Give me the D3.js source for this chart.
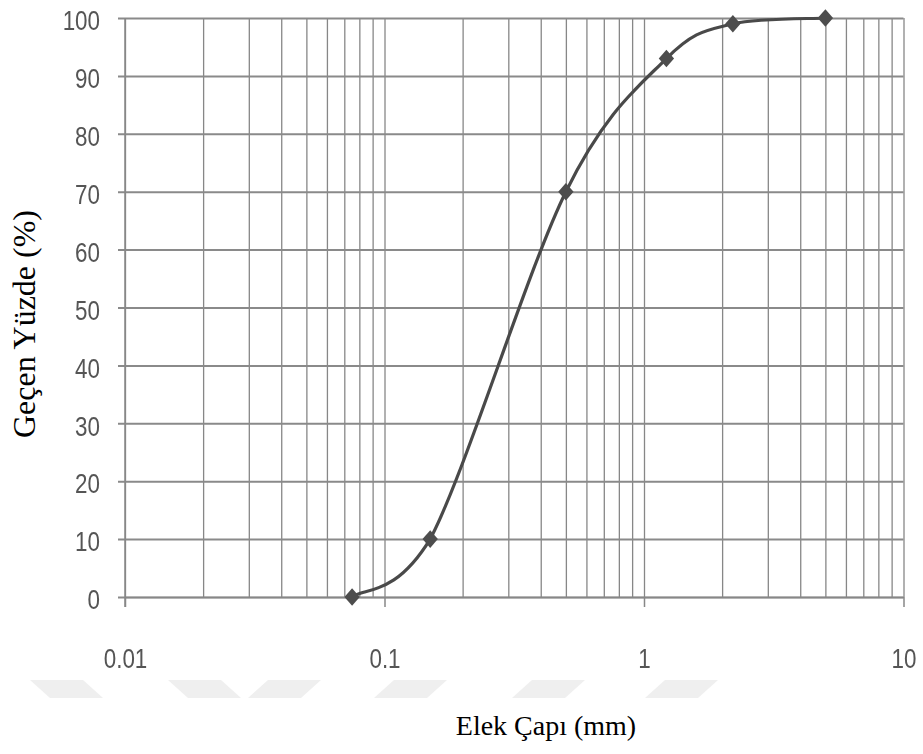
<!DOCTYPE html>
<html>
<head>
<meta charset="utf-8">
<script src="https://cdn.jsdelivr.net/npm/d3@7/dist/d3.min.js"></script>
<style>
  html, body { margin: 0; padding: 0; background: #fff; }
  svg { display: block; }
</style>
</head>
<body>
<svg id="chart" width="923" height="754"></svg>
<script>
// ---- data ----
const sieveSizes = [0.075, 0.15, 0.5, 1.22, 2.2, 5];      // Elek Çapı (mm)
const passingPct = [0, 10, 70, 93, 99, 100];              // Geçen Yüzde (%)
const yTicks = [0, 10, 20, 30, 40, 50, 60, 70, 80, 90, 100];
const xMajorTicks = [0.01, 0.1, 1, 10];
const xTickLabels = ["0.01", "0.1", "1", "10"];
const xTitle = "Elek Çapı (mm)";
const yTitle = "Geçen Yüzde (%)";

// ---- layout ----
const mLeft = 125, mRight = 903.5, mTop = 18, mBottom = 597;
const labelFont = "'Liberation Sans', Arial, sans-serif";
const squeeze = 0.8;

const svg = d3.select("#chart");
const defs = svg.append("defs");
defs.append("filter").attr("id", "soft")
  .append("feGaussianBlur").attr("stdDeviation", 0.55);

// faint watermark band under the axis labels
const band = svg.append("g").attr("fill", "#efefef");
const bandShapes = [
  {x: 30, dir: 1}, {x: 168, dir: 1}, {x: 268, dir: -1},
  {x: 394, dir: -1}, {x: 532, dir: -1}, {x: 665, dir: -1}
];
bandShapes.forEach(s => {
  const w = 53, sl = 20, y0 = 680, y1 = 698;
  const pts = s.dir > 0
    ? [[s.x, y0], [s.x + w, y0], [s.x + w + sl, y1], [s.x + sl, y1]]
    : [[s.x, y0], [s.x + w, y0], [s.x + w - sl, y1], [s.x - sl, y1]];
  band.append("polygon").attr("points", pts.map(p => p.join(",")).join(" "));
});

const x = d3.scaleLog().domain([0.01, 10]).range([mLeft, mRight]);
const y = d3.scaleLinear().domain([0, 100]).range([mBottom, mTop]);

// all log grid positions from the scale's own ticks
const xAllTicks = x.ticks();

const g = svg.append("g").attr("filter", "url(#soft)");

function squeezeText(sel) {
  sel.each(function () {
    const len = this.getComputedTextLength();
    d3.select(this).attr("textLength", len * squeeze).attr("lengthAdjust", "spacingAndGlyphs");
  });
}

// Excel-like smoothed curve: uniform Catmull-Rom Bezier, control points kept
// within each segment's vertical range (no dip/overshoot)
function ExcelSmooth(context) { this._context = context; }
ExcelSmooth.prototype = {
  areaStart() {}, areaEnd() {},
  lineStart() { this._pts = []; },
  point(px, py) { this._pts.push([+px, +py]); },
  lineEnd() {
    const P = this._pts, n = P.length, c = this._context;
    if (!n) return;
    c.moveTo(P[0][0], P[0][1]);
    const at = i => P[Math.max(0, Math.min(n - 1, i))];
    for (let i = 0; i < n - 1; i++) {
      const p0 = at(i - 1), p1 = at(i), p2 = at(i + 1), p3 = at(i + 2);
      const lo = Math.min(p1[1], p2[1]), hi = Math.max(p1[1], p2[1]);
      const cl = v => Math.max(lo, Math.min(hi, v));
      const c1x = p1[0] + (p2[0] - p0[0]) / 6, c1y = cl(p1[1] + (p2[1] - p0[1]) / 6);
      const c2x = p2[0] - (p3[0] - p1[0]) / 6, c2y = cl(p2[1] - (p3[1] - p1[1]) / 6);
      c.bezierCurveTo(c1x, c1y, c2x, c2y, p2[0], p2[1]);
    }
  }
};
const excelSmooth = context => new ExcelSmooth(context);

// vertical grid lines
g.append("g")
  .attr("transform", `translate(0,${mBottom})`)
  .call(d3.axisBottom(x).tickValues(xAllTicks).tickSize(-(mBottom - mTop)).tickFormat(""))
  .call(a => a.select(".domain").remove())
  .call(a => a.selectAll("line").attr("stroke", "#878787").attr("stroke-width", 1.3));

// horizontal grid lines + y labels
g.append("g")
  .attr("transform", `translate(${mLeft - 7},0)`)
  .call(d3.axisLeft(y).tickValues(yTicks).tickSize(-(mRight - mLeft + 7)).tickPadding(18).tickFormat(d3.format("d")))
  .call(a => a.select(".domain").remove())
  .call(a => a.selectAll("line").attr("stroke", "#8a8a8a").attr("stroke-width", 2))
  .call(a => a.selectAll("text")
    .attr("font-family", labelFont)
    .attr("font-size", 28).attr("fill", "#555").attr("dy", "0.42em")
    .call(squeezeText));

// major x ticks + labels
g.append("g")
  .attr("transform", `translate(0,${mBottom})`)
  .call(d3.axisBottom(x).tickValues(xMajorTicks).tickSize(10).tickSizeOuter(0).tickPadding(41)
    .tickFormat((d, i) => xTickLabels[i]))
  .call(a => a.select(".domain").attr("stroke", "#878787").attr("stroke-width", 1.5))
  .call(a => a.selectAll("line").attr("stroke", "#878787").attr("stroke-width", 1.5))
  .call(a => a.selectAll("text")
    .attr("font-family", labelFont)
    .attr("font-size", 28).attr("fill", "#555")
    .call(squeezeText));

// left axis line
g.append("line")
  .attr("x1", mLeft).attr("x2", mLeft).attr("y1", mTop).attr("y2", mBottom + 10)
  .attr("stroke", "#878787").attr("stroke-width", 1.5);

// curve
const data = sieveSizes.map((d, i) => ({d, p: passingPct[i]}));
const line = d3.line().x(v => x(v.d)).y(v => y(v.p)).curve(excelSmooth);
g.append("path").datum(data)
  .attr("d", line).attr("fill", "none").attr("stroke", "#4a4a4a").attr("stroke-width", 3.2);

// diamond markers
const diamond = d3.symbol().type(d3.symbolDiamond2).size(150);
g.selectAll(".mk").data(data).enter().append("path")
  .attr("class", "mk")
  .attr("transform", v => `translate(${x(v.d)},${y(v.p)}) scale(1,1.15)`)
  .attr("d", diamond).attr("fill", "#4d4d4d");

// axis titles
svg.append("text")
  .attr("x", 546).attr("y", 735).attr("text-anchor", "middle")
  .attr("font-family", "'Liberation Serif', 'Times New Roman', serif")
  .attr("font-size", 28).attr("fill", "#000")
  .text(xTitle);

svg.append("text")
  .attr("transform", "translate(35,324) rotate(-90)")
  .attr("text-anchor", "middle")
  .attr("font-family", "'Liberation Serif', 'Times New Roman', serif")
  .attr("font-size", 32).attr("fill", "#000")
  .text(yTitle);
</script>
</body>
</html>
